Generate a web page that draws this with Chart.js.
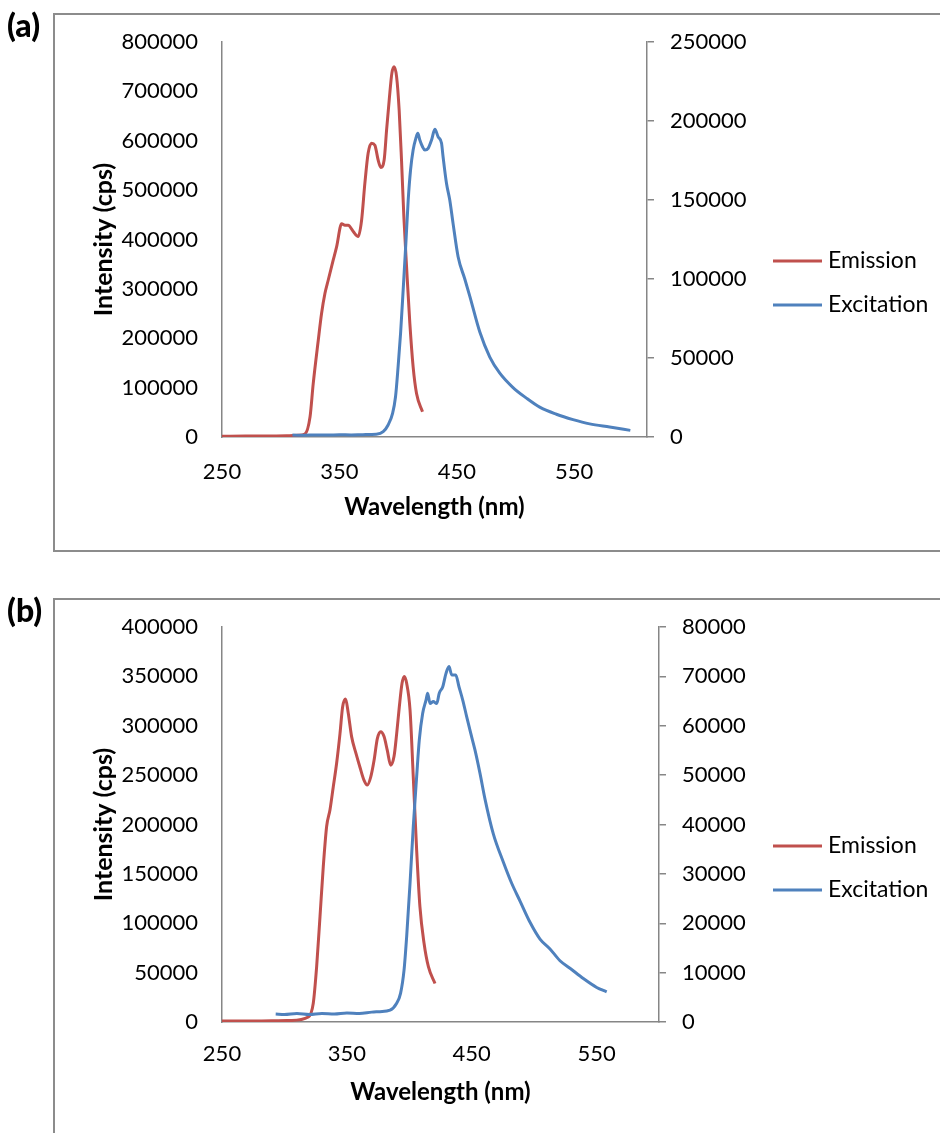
<!DOCTYPE html>
<html>
<head>
<meta charset="utf-8">
<script src="https://cdn.jsdelivr.net/npm/chart.js@4.4.0/dist/chart.umd.min.js"></script>
<style>
  html, body { margin: 0; padding: 0; background: #fff; }
  body { width: 940px; height: 1133px; position: relative; overflow: hidden; }
  .panel { position: absolute; left: 0; width: 940px; }
  #wrapA { top: 0; height: 560px; }
  #wrapB { top: 585px; height: 548px; }
</style>
</head>
<body>
<div class="panel" id="wrapA"><canvas id="chartA" width="940" height="560"></canvas></div>
<div class="panel" id="wrapB"><canvas id="chartB" width="940" height="548"></canvas></div>
<script>
// panel (a) - emission (left axis) and excitation (right axis), wavelength in nm
const emissionA_nm = [250, 270, 290, 305, 315, 320.6, 325, 327.7, 332, 334.8, 337.7, 340.5, 344.7, 347.6, 351.9, 354.7, 357.5, 361.8, 366, 368.9, 371.7, 374.5, 377.4, 380.2, 383, 385.3, 388.1, 390.2, 392.4, 394.7, 396.6, 398.7, 400.9, 402.9, 404.9, 407.2, 410, 412.8, 415.7, 420.8];
const emissionA = [1500, 1800, 2000, 2500, 3500, 6000, 41000, 108000, 196000, 250000, 291000, 318000, 358000, 385000, 432000, 429000, 429000, 416000, 406000, 439000, 514000, 575000, 595000, 591000, 561000, 546000, 561000, 622000, 682000, 737000, 750000, 730000, 662000, 561000, 446000, 345000, 230000, 142000, 88000, 51000];

const excitationA_nm = [310, 320, 330, 340, 350, 360, 370, 381.4, 387.3, 391.5, 395.3, 397.8, 400, 402.1, 404.3, 406.6, 408.6, 410.6, 412.8, 415.1, 416.8, 418.5, 420.8, 422.8, 425.6, 428.5, 431.3, 434.1, 437, 438.3, 441.2, 444, 446.8, 451.1, 456.8, 461.1, 469.6, 478.1, 486.6, 497.9, 509.3, 520.6, 534.8, 549, 563.2, 580.2, 597.8];
const excitationA = [1200, 1100, 1300, 1200, 1400, 1300, 1500, 1800, 3400, 7600, 15000, 25500, 44500, 65600, 93000, 122600, 150000, 169000, 181600, 189000, 192200, 188000, 183700, 181600, 182700, 188000, 194700, 190000, 185900, 177400, 160600, 150000, 135200, 114100, 100000, 89000, 66400, 50600, 40400, 31300, 24600, 18900, 14400, 11000, 8300, 6300, 4200];

// panel (b)
const emissionB_nm = [250, 270, 290, 305, 319.1, 323.1, 325.8, 328.5, 331.1, 333.8, 336.5, 339.1, 341.8, 344.5, 346.6, 349, 351.1, 353.8, 357.3, 360.5, 363.7, 366.4, 369.1, 371.8, 374.4, 377.1, 379.8, 382.4, 385.1, 387.8, 389.9, 392, 394.2, 396, 397.9, 400.6, 403.2, 405.9, 408.5, 411.8, 415.3, 420.6];
const emissionB = [1000, 1000, 1200, 1500, 5000, 19000, 56000, 107000, 157000, 198000, 215000, 238000, 262000, 292000, 319000, 327000, 313000, 289000, 272000, 258000, 245000, 240000, 248000, 265000, 287000, 294000, 289000, 275000, 260000, 269000, 292000, 319000, 343000, 350000, 343000, 316000, 248000, 174000, 117000, 80000, 56000, 39000];

const excitationB_nm = [293, 300, 310, 320, 330, 340, 350, 360, 370, 376.5, 384.6, 389.9, 393, 395.8, 397.9, 400.6, 403.2, 405.9, 408, 410.7, 413.4, 414.7, 416.6, 419.2, 422, 424, 426.8, 429.4, 431.8, 434, 437.2, 439.8, 442.8, 446, 449.2, 452.6, 456.6, 460.6, 467.3, 475.3, 482, 488.7, 496.7, 504.7, 512.7, 520.7, 528.7, 539.4, 550.1, 558.1];
const excitationB = [1600, 1500, 1700, 1500, 1700, 1600, 1800, 1700, 2000, 2100, 2400, 3800, 5800, 10500, 17300, 28100, 39600, 49700, 57100, 62500, 65200, 66600, 64500, 64900, 64500, 66600, 67900, 70600, 72000, 70300, 70300, 67900, 65200, 61800, 58500, 55100, 50400, 45200, 38100, 32400, 28100, 24500, 20200, 16800, 14800, 12400, 10900, 8800, 7000, 6100];

const xTicks = [250, 350, 450, 550];
const seriesNames = ["Emission", "Excitation"];
const colors = ["#C0504D", "#4F81BD"];
const axisGray = "#868686";

const toPoints = (xs, ys) => xs.map((x, i) => ({ x: x, y: ys[i] }));

// frame, panel letter and legend, drawn on the canvas
const decorations = (letter, frameBottom) => ({
  id: "decorations",
  afterDraw(chart) {
    const ctx = chart.ctx;
    ctx.save();
    ctx.strokeStyle = "#8c8c8c";
    ctx.lineWidth = 2;
    ctx.beginPath();
    ctx.moveTo(940, 14);
    ctx.lineTo(54, 14);
    ctx.lineTo(54, frameBottom);
    if (frameBottom < chart.height) ctx.lineTo(940, frameBottom);
    ctx.stroke();

    ctx.fillStyle = "#000";
    ctx.font = "900 32px Lato";
    ctx.textBaseline = "middle";
    ctx.textAlign = "left";
    ctx.fillText(letter, 7, 27);

    ctx.font = "23px Lato";
    chart.data.datasets.forEach((ds, i) => {
      const y = 261 + i * 44;
      ctx.strokeStyle = ds.borderColor;
      ctx.lineWidth = 3;
      ctx.beginPath();
      ctx.moveTo(773, y);
      ctx.lineTo(822, y);
      ctx.stroke();
      ctx.fillText(ds.label, 828, y);
    });
    ctx.restore();
  },
});

const makeChart = (canvasId, letter, emission, excitation, xMax, leftMax, leftStep, rightMax, rightStep, plotRight, frameBottom, tickPad) => {
  const canvas = document.getElementById(canvasId);
  const height = canvas.height;
  const ctx = canvas.getContext("2d");
  return new Chart(ctx, {
    type: "line",
    data: {
      datasets: [
        {
          label: seriesNames[0],
          data: emission,
          borderColor: colors[0],
          backgroundColor: "transparent",
          borderWidth: 3,
          pointRadius: 0,
          cubicInterpolationMode: "monotone",
          yAxisID: "y",
          order: 1,
        },
        {
          label: seriesNames[1],
          data: excitation,
          borderColor: colors[1],
          backgroundColor: "transparent",
          borderWidth: 3,
          pointRadius: 0,
          cubicInterpolationMode: "monotone",
          yAxisID: "y1",
          order: 0,
        },
      ],
    },
    options: {
      responsive: false,
      animation: false,
      devicePixelRatio: 1,
      layout: { padding: { left: 89, top: 42, right: 940 - plotRight - 100, bottom: height - 522 } },
      plugins: { legend: { display: false }, tooltip: { enabled: false } },
      scales: {
        x: {
          type: "linear",
          min: 250,
          max: xMax,
          afterBuildTicks: (axis) => { axis.ticks = xTicks.map((v) => ({ value: v })); },
          afterFit: (axis) => { axis.height = 85; },
          grid: { display: false, drawTicks: false },
          border: { display: true, color: axisGray, width: 1.5 },
          ticks: { color: "#000", font: { size: 22 }, padding: tickPad, maxRotation: 0 },
          title: { display: true, text: "Wavelength (nm)", color: "#000", font: { size: 24, weight: "bold" }, padding: 0 },
        },
        y: {
          position: "left",
          min: 0,
          max: leftMax,
          afterFit: (axis) => { axis.width = 133; },
          grid: { display: false, drawTicks: false },
          border: { display: true, color: axisGray, width: 1.5 },
          ticks: { stepSize: leftStep, color: "#000", font: { size: 22 }, padding: 24, callback: (v) => String(v) },
          title: { display: true, text: "Intensity (cps)", color: "#000", font: { size: 25, weight: "bold" }, padding: 0 },
        },
        y1: {
          position: "right",
          min: 0,
          max: rightMax,
          afterFit: (axis) => { axis.width = 100; },
          grid: { display: true, drawOnChartArea: false, drawTicks: true, tickLength: 7, color: axisGray, lineWidth: 1.5 },
          border: { display: true, color: axisGray, width: 1.5 },
          ticks: { stepSize: rightStep, color: "#000", font: { size: 22 }, padding: 16, callback: (v) => String(v) },
        },
      },
    },
    plugins: [decorations(letter, frameBottom)],
  });
};

const draw = () => {
  Chart.defaults.font.family = "Lato";
  Chart.defaults.color = "#000";
  makeChart("chartA", "(a)", toPoints(emissionA_nm, emissionA), toPoints(excitationA_nm, excitationA),
    612, 800000, 100000, 250000, 50000, 647, 551, 22);
  makeChart("chartB", "(b)", toPoints(emissionB_nm, emissionB), toPoints(excitationB_nm, excitationB),
    600, 400000, 50000, 80000, 10000, 659, 600, 19);
};

Promise.all([document.fonts.load("22px Lato"), document.fonts.load("bold 24px Lato"), document.fonts.load("900 32px Lato")])
  .then(draw)
  .catch(draw);
</script>
</body>
</html>
